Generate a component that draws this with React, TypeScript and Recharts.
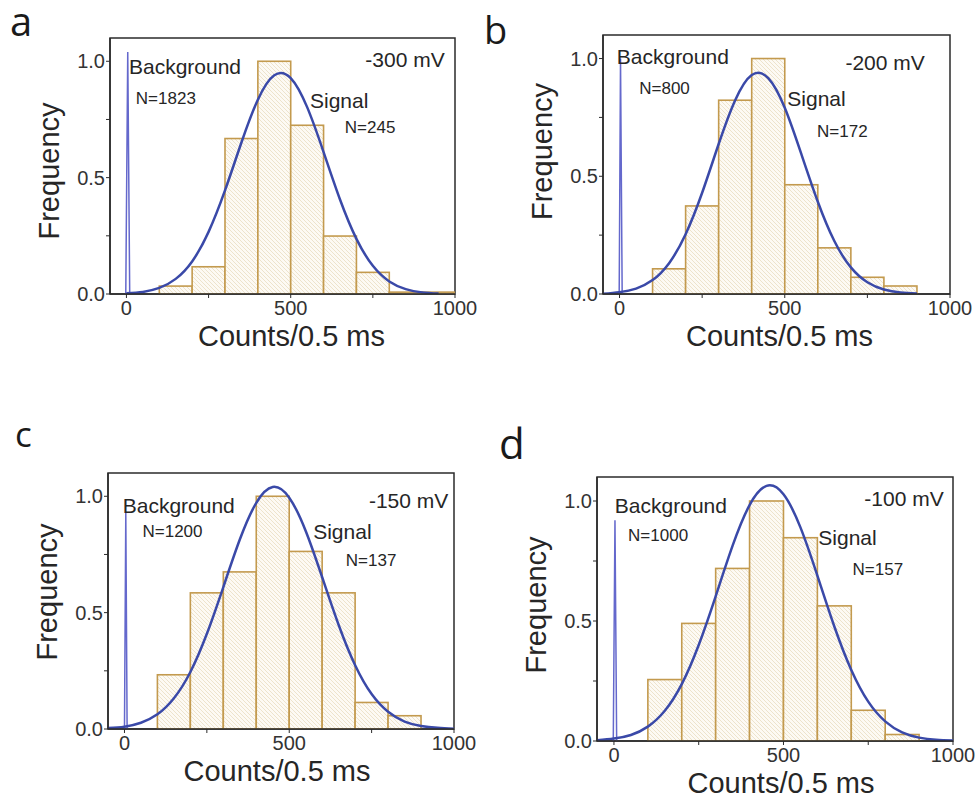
import React from "react";
import {
  Bar,
  ComposedChart,
  Label,
  Line,
  ReferenceArea,
  ReferenceDot,
  XAxis,
  YAxis,
} from "recharts";

const FONT = '"Liberation Sans", Arial, sans-serif';
const INK = "#262626";
const AXIS_INK = "#2b2b2b";
const BAR_STROKE = "#c39a4e";
const FIT_COLOR = "#3a49a8";
const SPIKE_COLOR = "#6468cc";

const X_MIN = -50;
const X_MAX = 1000;
const Y_MAX = 1.1;
const BIN = 100;
const X_TICKS = [0, 250, 500, 750, 1000];
const Y_TICKS = [0, 0.25, 0.5, 0.75, 1.0];

// histogram bins: 100-200, 200-300, ... (centres)
const BIN_CENTERS = [150, 250, 350, 450, 550, 650, 750, 850, 950];
const CURVE_X = [-50, 0, 50, 100, 150, 200, 250, 300, 350, 400, 450, 500, 550, 600, 650, 700, 750, 800, 850, 900, 950, 1000];

// panel a, -300 mV
const BARS_A = [0.034, 0.117, 0.668, 1.0, 0.725, 0.249, 0.093, 0.008, 0.008];
const FIT_A = [null, 0.003, 0.009, 0.026, 0.065, 0.14, 0.267, 0.445, 0.651, 0.835, 0.94, 0.928, 0.803, 0.61, 0.406, 0.237, 0.121, 0.054, 0.021, 0.007, 0.002, null];
const SPIKE_X_A = [-2, 4, 10];
const SPIKE_Y_A = [0, 1.04, 0];

// panel b, -200 mV
const BARS_B = [0.107, 0.374, 0.823, 1.0, 0.464, 0.196, 0.071, 0.034];
const FIT_B = [0.001, 0.008, 0.023, 0.059, 0.131, 0.254, 0.43, 0.637, 0.823, 0.93, 0.917, 0.791, 0.595, 0.392, 0.225, 0.113, 0.05, 0.019, 0.006, 0.002, null, null];
const SPIKE_X_B = [-1, 3, 8];
const SPIKE_Y_B = [0, 1.0, 0];

// panel c, -150 mV
const BARS_C = [0.233, 0.585, 0.675, 1.0, 0.763, 0.585, 0.114, 0.057];
const FIT_C = [0.004, 0.01, 0.027, 0.063, 0.132, 0.245, 0.409, 0.61, 0.814, 0.972, 1.04, 0.994, 0.851, 0.652, 0.447, 0.274, 0.15, 0.074, 0.032, 0.013, 0.005, 0.001];
const SPIKE_X_C = [0, 4, 8];
const SPIKE_Y_C = [0, 0.93, 0];

// panel d, -100 mV
const BARS_D = [0.256, 0.49, 0.719, 1.0, 0.847, 0.563, 0.128, 0.027];
const FIT_D = [0.003, 0.01, 0.025, 0.06, 0.126, 0.237, 0.4, 0.603, 0.814, 0.983, 1.063, 1.028, 0.89, 0.689, 0.477, 0.296, 0.164, 0.082, 0.036, 0.014, 0.005, 0.002];
const SPIKE_X_D = [-2, 3, 8];
const SPIKE_Y_D = [0, 0.92, 0];

// text annotations, placed in data units
const NOTES_A = [
  { text: "Background", x: 8, y: 0.945 },
  { text: "N=1823", x: 29, y: 0.815, small: true },
  { text: "-300 mV", x: 969, y: 0.977, end: true },
  { text: "Signal", x: 559, y: 0.798 },
  { text: "N=245", x: 665, y: 0.691, small: true },
];
const NOTES_B = [
  { text: "Background", x: -8, y: 0.977 },
  { text: "N=800", x: 60, y: 0.849, small: true },
  { text: "-200 mV", x: 924, y: 0.951, end: true },
  { text: "Signal", x: 508, y: 0.796 },
  { text: "N=172", x: 598, y: 0.665, small: true },
];
const NOTES_C = [
  { text: "Background", x: -5, y: 0.929 },
  { text: "N=1200", x: 55, y: 0.826, small: true },
  { text: "-150 mV", x: 983, y: 0.948, end: true },
  { text: "Signal", x: 573, y: 0.815 },
  { text: "N=137", x: 672, y: 0.702, small: true },
];
const NOTES_D = [
  { text: "Background", x: 3, y: 0.949 },
  { text: "N=1000", x: 42, y: 0.835, small: true },
  { text: "-100 mV", x: 973, y: 0.979, end: true },
  { text: "Signal", x: 603, y: 0.817 },
  { text: "N=157", x: 704, y: 0.692, small: true },
];

// layout (page pixels of each plot frame)
const ML = 80;
const MT = 12;
const MR = 40;
const MB = 70;
const LETTER_LH = 28;

const PANELS = [
  { id: "a", bars: BARS_A, fit: FIT_A, sx: SPIKE_X_A, sy: SPIKE_Y_A, notes: NOTES_A,
    box: { left: 110, top: 38, width: 345, height: 256 }, titleDx: 9, titleDy: 5,
    letter: { x: 10, y: 37, size: 40 } },
  { id: "b", bars: BARS_B, fit: FIT_B, sx: SPIKE_X_B, sy: SPIKE_Y_B, notes: NOTES_B,
    box: { left: 603, top: 35, width: 347, height: 259 }, titleDx: 3, titleDy: -13,
    letter: { x: 484, y: 44, size: 38 } },
  { id: "c", bars: BARS_C, fit: FIT_C, sx: SPIKE_X_C, sy: SPIKE_Y_C, notes: NOTES_C,
    box: { left: 108, top: 473, width: 346, height: 256 }, titleDx: -4, titleDy: -9,
    letter: { x: 15, y: 448, size: 35 } },
  { id: "d", bars: BARS_D, fit: FIT_D, sx: SPIKE_X_D, sy: SPIKE_Y_D, notes: NOTES_D,
    box: { left: 597, top: 477, width: 356, height: 264 }, titleDx: 6, titleDy: -4,
    letter: { x: 499, y: 459, size: 42 } },
];

const tickStyle = { fontSize: 20, fill: "#333", fontFamily: FONT };

function Panel({ p }: { p: any }) {
  const { box } = p;
  const w = box.width + ML + MR;
  const h = box.height + MT + MB;
  const binPx = (box.width * BIN) / (X_MAX - X_MIN);
  const bars = p.bars.map((y: number, i: number) => ({ x: BIN_CENTERS[i], y }));
  const fit = CURVE_X.map((x, i) => ({ x, y: p.fit[i] })).filter((d) => d.y !== null);
  const spike = p.sx.map((x: number, i: number) => ({ x, y: p.sy[i] }));
  const patId = `hatch-${p.id}`;

  // widen each bar to the full bin width around the centre the scale gives
  const binShape = (bp: any) => {
    const cx = bp.x + bp.width / 2;
    return (
      <rect
        x={cx - binPx / 2}
        y={bp.y}
        width={binPx}
        height={bp.height}
        fill={`url(#${patId})`}
        stroke={BAR_STROKE}
        strokeWidth={1.6}
      />
    );
  };

  return (
    <div style={{ position: "absolute", left: box.left - ML, top: box.top - MT }}>
      <ComposedChart
        width={w}
        height={h}
        data={bars}
        margin={{ top: MT, right: MR, bottom: 0, left: 0 }}
      >
        <defs>
          <pattern id={patId} patternUnits="userSpaceOnUse" width={4} height={4}>
            <rect width={4} height={4} fill="#fdfaf4" />
            <path d="M-1,-1 L5,5 M-1,3 L1,5 M3,-1 L5,1" stroke="#ede3cc" strokeWidth={1} />
          </pattern>
        </defs>
        <XAxis
          dataKey="x"
          type="number"
          domain={[X_MIN, X_MAX]}
          ticks={X_TICKS}
          interval={0}
          allowDataOverflow
          height={MB}
          tick={tickStyle}
          tickSize={4}
          tickMargin={3}
          tickFormatter={(v: number) => (v % 500 === 0 ? String(v) : "")}
          axisLine={{ stroke: AXIS_INK, strokeWidth: 1.5 }}
          tickLine={{ stroke: AXIS_INK }}
        >
          <Label
            content={() => (
              <text
                x={ML + box.width / 2 + p.titleDx}
                y={MT + box.height + 52}
                textAnchor="middle"
                fontSize={29}
                fontFamily={FONT}
                fill={INK}
              >
                Counts/0.5 ms
              </text>
            )}
          />
        </XAxis>
        <YAxis
          type="number"
          domain={[0, Y_MAX]}
          ticks={Y_TICKS}
          interval={0}
          allowDataOverflow
          width={ML}
          tick={tickStyle}
          tickSize={4}
          tickMargin={1}
          tickFormatter={(v: number) => (v === 0 ? "0.0" : v === 0.5 ? "0.5" : v === 1 ? "1.0" : "")}
          axisLine={{ stroke: AXIS_INK, strokeWidth: 1.5 }}
          tickLine={{ stroke: AXIS_INK }}
        >
          <Label
            content={() => {
              const cx = ML - 51;
              const cy = MT + box.height / 2 + p.titleDy;
              return (
                <text
                  x={cx}
                  y={cy}
                  transform={`rotate(-90 ${cx} ${cy})`}
                  textAnchor="middle"
                  fontSize={29}
                  fontFamily={FONT}
                  fill={INK}
                >
                  Frequency
                </text>
              );
            }}
          />
        </YAxis>
        <Bar dataKey="y" shape={binShape} isAnimationActive={false} />
        <Line
          data={spike}
          dataKey="y"
          type="linear"
          stroke={SPIKE_COLOR}
          strokeWidth={1.5}
          dot={false}
          activeDot={false}
          isAnimationActive={false}
        />
        <Line
          data={fit}
          dataKey="y"
          type="natural"
          stroke={FIT_COLOR}
          strokeWidth={2.5}
          dot={false}
          activeDot={false}
          isAnimationActive={false}
        />
        <ReferenceArea
          x1={X_MIN}
          x2={X_MAX}
          y1={0}
          y2={Y_MAX}
          fill="none"
          stroke={AXIS_INK}
          strokeWidth={1.5}
          ifOverflow="visible"
        />
        {p.notes.map((n: any) => (
          <ReferenceDot
            key={n.text}
            x={n.x}
            y={n.y}
            r={0.1}
            fill="none"
            stroke="none"
            ifOverflow="visible"
            label={(lp: any) => (
              <text
                x={lp.viewBox.x}
                y={lp.viewBox.y}
                textAnchor={n.end ? "end" : "start"}
                fontSize={n.small ? 17 : 21}
                fontFamily={FONT}
                fill={INK}
              >
                {n.text}
              </text>
            )}
          />
        ))}
      </ComposedChart>
    </div>
  );
}

export default function App() {
  return (
    <div style={{ position: "absolute", left: 0, top: 0, width: 979, height: 800, background: "#fff" }}>
      {PANELS.map((p) => (
        <div
          key={`l-${p.id}`}
          style={{
            position: "absolute",
            left: p.letter.x,
            // put the glyph baseline at letter.y with a tight line box
            top: p.letter.y - LETTER_LH / 2 - 0.388 * p.letter.size,
            fontSize: p.letter.size,
            lineHeight: `${LETTER_LH}px`,
            fontFamily: '"Open Sans", "Noto Sans", sans-serif',
            color: "#1a1a1a",
          }}
        >
          {p.id}
        </div>
      ))}
      {PANELS.map((p) => (
        <Panel key={p.id} p={p} />
      ))}
    </div>
  );
}
